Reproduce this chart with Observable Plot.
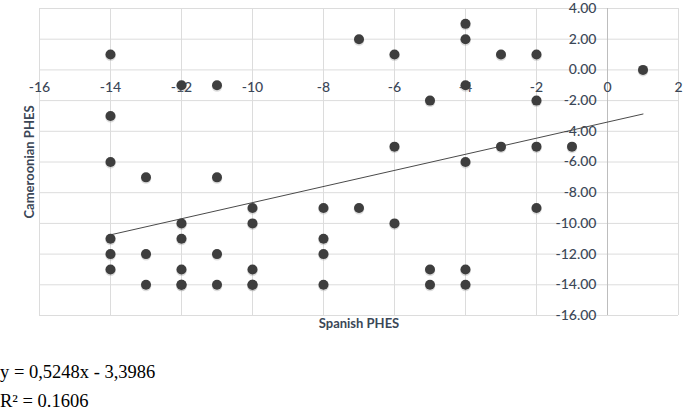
<!DOCTYPE html>
<html>
<head>
<meta charset="utf-8">
<script src="https://cdn.jsdelivr.net/npm/d3@7"></script>
<script src="https://cdn.jsdelivr.net/npm/@observablehq/plot@0.6"></script>
<style>
  body { margin: 0; background: #fff; width: 685px; height: 412px; position: relative; overflow: hidden; }
  #chart { position: absolute; left: 0; top: 0; }
  .eq { position: absolute; left: 0; font-family: "Liberation Serif", "Times New Roman", serif; font-size: 18.5px; line-height: 18px; color: #000; white-space: nowrap; }
</style>
</head>
<body>
<div id="chart"></div>
<div class="eq" id="eq1" style="top:363px"></div>
<div class="eq" id="eq2" style="top:392px"></div>
<script>
// Spanish PHES (x) and Cameroonian PHES (y)
const spanish = [
  -14, -12, -11, -7, -6, -4, -4, -4, -3, -2, 1,
  -5, -2,
  -14, -14, -6, -4, -3, -2, -1,
  -13, -11,
  -10, -8, -7, -2,
  -12, -10, -6,
  -14, -12, -8,
  -14, -13, -11, -8,
  -14, -12, -10, -5, -4,
  -13, -12, -12, -11, -10, -10, -8, -5, -4
];
const cameroonian = [
  1, -1, -1, 2, 1, 3, 2, -1, 1, 1, 0,
  -2, -2,
  -3, -6, -5, -6, -5, -5, -5,
  -7, -7,
  -9, -9, -9, -9,
  -10, -10, -10,
  -11, -11, -11,
  -12, -12, -12, -12,
  -13, -13, -13, -13, -13,
  -14, -14, -14, -14, -14, -14, -14, -14, -14
];
const xTicks = [-16, -14, -12, -10, -8, -6, -4, -2, 0, 2];
const yTicks = [4, 2, 0, -2, -4, -6, -8, -10, -12, -14, -16];
const slope = 0.5248;
const intercept = -3.3986;
const r2Text = "0.1606";
const xTitle = "Spanish PHES";
const yTitle = "Cameroonian PHES";

const points = spanish.map((x, i) => ({x, y: cameroonian[i]}));
const xMin = d3.min(spanish), xMax = d3.max(spanish);
const trend = [xMin, xMax].map(x => ({x, y: slope * x + intercept}));

const labelColor = "#3b4757";
const font = "Lato, 'Open Sans', sans-serif";

const chart = Plot.plot({
  width: 685,
  height: 340,
  marginTop: 8,
  marginBottom: 25,
  marginLeft: 39,
  marginRight: 7,
  style: {fontFamily: font, fontSize: "13px", color: labelColor, background: "#fff"},
  x: {domain: [-16, 2], axis: null},
  y: {domain: [-16, 4], axis: null},
  marks: [
    Plot.ruleX(xTicks, {stroke: "#dcdcdc", strokeWidth: 1}),
    Plot.ruleY(yTicks, {stroke: "#dcdcdc", strokeWidth: 1}),
    Plot.ruleX([0], {stroke: "#bdbdbd", strokeWidth: 1}),
    Plot.text(yTicks, {x: 0, y: d => d, text: d => d.toFixed(2), textAnchor: "end", dx: -11, fill: labelColor, fontSize: 14, fontWeight: 500, fontFamily: font}),
    Plot.text(xTicks, {x: d => d, y: 0, text: d => String(d), dy: 18, fill: labelColor, fontSize: 14, fontWeight: 500, fontFamily: font}),
    Plot.line(trend, {x: "x", y: "y", stroke: "#4a4a4a", strokeWidth: 1}),
    Plot.dot(points, {x: "x", y: "y", r: 5.3, fill: "#9a9a9a", fillOpacity: 0.35, dy: 1.2}),
    Plot.dot(points, {x: "x", y: "y", r: 5, fill: "#3e3e3e"}),
    Plot.text([xTitle], {frameAnchor: "bottom", textAnchor: "middle", dy: 12, text: d => d, fontWeight: "bold", fill: labelColor, fontSize: 13, fontFamily: font}),
    Plot.text([yTitle], {frameAnchor: "left", textAnchor: "middle", dx: -10, rotate: -90, text: d => d, fontWeight: "bold", fill: labelColor, fontSize: 13, fontFamily: font})
  ]
});
document.getElementById("chart").appendChild(chart);

const fmt = v => Math.abs(v).toFixed(4).replace(".", ",");
document.getElementById("eq1").textContent = `y = ${fmt(slope)}x ${intercept < 0 ? "-" : "+"} ${fmt(intercept)}`;
document.getElementById("eq2").textContent = `R² = ${r2Text}`;
</script>
</body>
</html>
